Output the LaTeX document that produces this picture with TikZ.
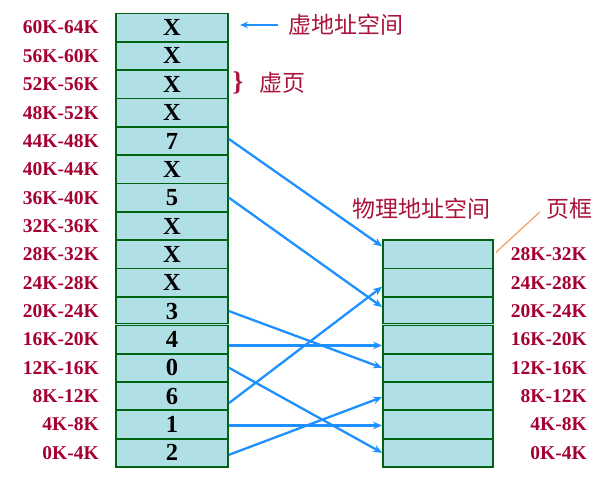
\documentclass[tikz,border=0pt]{standalone}
\usepackage{fontspec}
\setmainfont{Liberation Serif}
\newfontfamily\cjk{Noto Sans CJK SC}
\usetikzlibrary{arrows.meta}
\definecolor{cellfill}{RGB}{176,224,230}
\definecolor{cellborder}{RGB}{0,100,20}
\definecolor{labelred}{RGB}{165,0,50}
\definecolor{cjkred}{RGB}{170,20,60}
\definecolor{arrowblue}{RGB}{30,144,255}
\definecolor{orangeline}{RGB}{244,164,106}
\begin{document}
\begin{tikzpicture}[x=1pt,y=-1pt,
  cell/.style={draw=cellborder, fill=cellfill, line width=1.8pt, minimum height=28.35pt, inner sep=0pt, font=\bfseries\fontsize{24.5}{24.5}\selectfont},
  lcell/.style={cell, minimum width=112pt},
  rcell/.style={cell, minimum width=110pt},
  addr/.style={text=labelred, font=\bfseries\fontsize{19.5}{20}\selectfont, inner sep=0pt},
  cjklab/.style={text=cjkred, font=\cjk\fontsize{23}{24}\selectfont, inner sep=0pt},
  arr/.style={draw=arrowblue, line width=2.3pt, -{Stealth[length=9pt,width=7.5pt]}},
  dbl/.style={draw=cellborder, line width=3.6pt},
  dblgap/.style={draw=cellfill, line width=1pt}]
\useasboundingbox (0,0) rectangle (616,483);
% left column (virtual address space)
\foreach \i/\t/\lab in {0/2/0K-4K, 1/1/4K-8K, 2/6/8K-12K, 3/0/12K-16K, 4/4/16K-20K, 5/3/20K-24K, 6/X/24K-28K, 7/X/28K-32K, 8/X/32K-36K, 9/5/36K-40K, 10/X/40K-44K, 11/7/44K-48K, 12/X/48K-52K, 13/X/52K-56K, 14/X/56K-60K, 15/X/60K-64K}{
  \node[lcell] (L\i) at (172,{467-(\i+0.5)*28.35}) {\t};
  \node[addr, anchor=east] (LA\i) at (99,{467-(\i+0.5)*28.35}) {\lab};
}
% right column (physical address space)
\foreach \i/\lab in {0/0K-4K, 1/4K-8K, 2/8K-12K, 3/12K-16K, 4/16K-20K, 5/20K-24K, 6/24K-28K, 7/28K-32K}{
  \node[rcell] (R\i) at (438,{467-(\i+0.5)*28.35}) {};
  \node[addr, anchor=east] (RA\i) at (587,{467-(\i+0.5)*28.35}) {\lab};
}
% double separation lines
\draw[dbl] (L4.north west) -- (L4.north east);
\draw[dblgap] (L4.north west) -- (L4.north east);
\draw[dbl] (R4.north west) -- (R4.north east);
\draw[dblgap] (R4.north west) -- (R4.north east);
% mapping arrows
\draw[arr] ([yshift=2pt]L11.east) -- ([yshift=8pt]R7.west);
\draw[arr] (L9.east) -- ([yshift=4pt]R5.west);
\draw[arr] (L5.east) -- (R3.west);
\draw[arr] ([yshift=-6pt]L4.east) -- ([yshift=-6pt]R4.west);
\draw[arr] (L3.east) -- (R0.west);
\draw[arr] ([yshift=-7pt]L2.east) -- ([yshift=-4pt]R6.west);
\draw[arr] ([yshift=-1pt]L1.east) -- ([yshift=-1pt]R1.west);
\draw[arr] ([yshift=-2pt]L0.east) -- ([yshift=-1pt]R2.west);
% annotations
\node[cjklab, anchor=west] (vas) at (288,25) {虚地址空间};
\coordinate (vasend) at (240,25);
\draw[arr, line width=2pt, -{Stealth[length=8pt,width=6.5pt]}] ([xshift=-10pt]vas.west) -- (vasend);
\node[text=cjkred, font=\bfseries\fontsize{27}{27}\selectfont, inner sep=0pt] (br) at (238,83) {\}};
\node[cjklab, anchor=west] (vp) at (259,83) {虚页};
\node[cjklab] (pas) at (421,209) {物理地址空间};
\node[cjklab] (yk) at (569,209) {页框};
\draw[orangeline, line width=1.3pt] ([xshift=-6pt,yshift=-3pt]yk.west) -- ([xshift=2pt,yshift=2pt]R7.east);
\end{tikzpicture}
\end{document}
